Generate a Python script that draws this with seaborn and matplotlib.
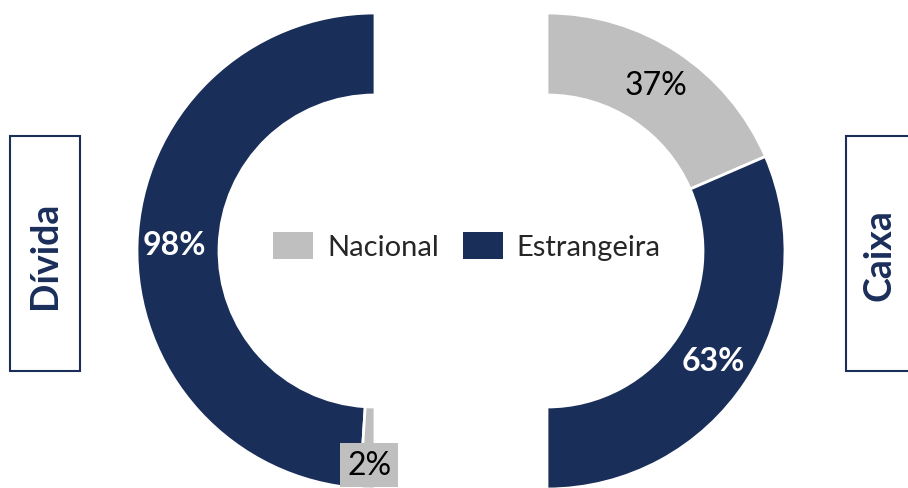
import numpy as np
import matplotlib
matplotlib.use("Agg")
import matplotlib.pyplot as plt
from matplotlib.patches import Patch, Rectangle
import seaborn as sns

# Shares (%) by origin
categories = ["Nacional", "Estrangeira"]
divida = [2, 98]
caixa = [37, 63]
panel_titles = ["Dívida", "Caixa"]

NAVY = "#1a2e5a"
GRAY = "#bfbfbf"
colors = {"Nacional": GRAY, "Estrangeira": NAVY}

sns.set_theme(style="white")
plt.rcParams["font.family"] = ["Lato", "DejaVu Sans"]

W, H = 908, 489
fig = plt.figure(figsize=(W / 100, H / 100), dpi=100)
ax = fig.add_axes([0, 0, 1, 1])

R_OUT, RING = 238, 82
R_MID = R_OUT - RING / 2 + 2


def half_donut(values, order, center, counterclock):
    vals = [values[categories.index(c)] for c in order]
    cols = [colors[c] for c in order]
    # a transparent wedge fills the unused half of the circle
    wedges, _ = ax.pie(vals + [sum(vals)], colors=cols + ["none"], center=center,
                       radius=R_OUT, startangle=90, counterclock=counterclock,
                       wedgeprops=dict(width=RING, edgecolor="white", linewidth=2))
    wedges[-1].set_edgecolor("none")
    # mid-angle of each visible wedge, in degrees
    total = 2 * sum(vals)
    mids, acc = [], 0
    sign = 1 if counterclock else -1
    for v in vals:
        mids.append(90 + sign * 360 * (acc + v / 2) / total)
        acc += v
    return dict(zip(order, mids))


cl = (375, H - 252)
cr = (547, H - 252)
mid_l = half_donut(divida, ["Estrangeira", "Nacional"], cl, True)
mid_r = half_donut(caixa, ["Nacional", "Estrangeira"], cr, False)


def pos(center, ang, r):
    a = np.deg2rad(ang)
    return center[0] + r * np.cos(a), center[1] + r * np.sin(a)


fs = 23
x, y = pos(cl, mid_l["Estrangeira"], R_MID + 2)
ax.text(x, y, f"{divida[1]}%", ha="center", va="center", color="white",
        fontsize=fs, fontweight="bold")
x, y = pos(cl, mid_l["Nacional"], R_MID + 15)
ax.text(x + 1, y, f"{divida[0]}%", ha="center", va="center", color="black", fontsize=fs,
        bbox=dict(boxstyle="square,pad=0.22", facecolor=GRAY, edgecolor="none"))
x, y = pos(cr, mid_r["Nacional"], R_MID)
ax.text(x, y, f"{caixa[0]}%", ha="center", va="center", color="black", fontsize=fs)
x, y = pos(cr, mid_r["Estrangeira"], R_MID)
ax.text(x, y, f"{caixa[1]}%", ha="center", va="center", color="white",
        fontsize=fs, fontweight="bold")

# framed side titles
for (bx, bw), tx, title in [((10, 70), 45, panel_titles[0]), ((846, 80), 880, panel_titles[1])]:
    ax.add_patch(Rectangle((bx, H - 372), bw, 235, facecolor="white",
                           edgecolor=NAVY, linewidth=1.5))
    ax.text(tx, H - 255, title, rotation=90, ha="center", va="center",
            color=NAVY, fontsize=27, fontweight="bold")

handles = [Patch(facecolor=colors[c], edgecolor="none") for c in categories]
ax.legend(handles, categories, loc="center", bbox_to_anchor=(467, H - 247),
          bbox_transform=ax.transData, ncol=2, frameon=False, fontsize=21,
          handlelength=1.38, handleheight=1.03, handletextpad=0.48,
          columnspacing=0.8, borderpad=0, borderaxespad=0)

ax.set_xlim(0, W)
ax.set_ylim(0, H)
ax.set_aspect("auto")
ax.axis("off")

fig.savefig("out.png", dpi=100, facecolor="white")
